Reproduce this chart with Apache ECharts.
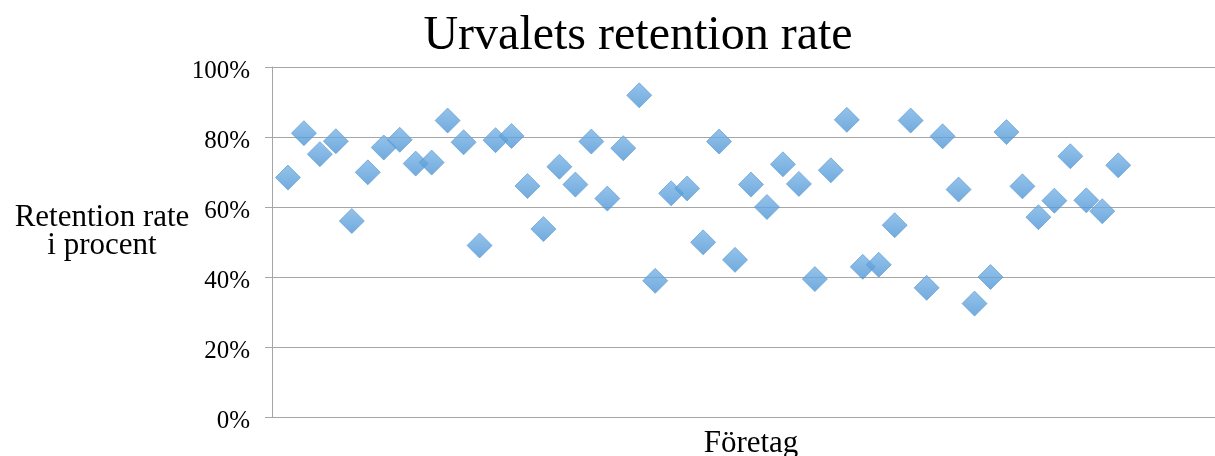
<!DOCTYPE html>
<html>
<head>
<meta charset="utf-8">
<title>Urvalets retention rate</title>
<script src="https://cdn.jsdelivr.net/npm/echarts@6/dist/echarts.min.js"></script>
<style>
  html, body { margin: 0; padding: 0; background: #ffffff; }
  #chart { width: 1215px; height: 456px; }
</style>
</head>
<body>
<div id="chart"></div>
<script>
// Retention rate per company (percent), companies numbered 1..53
const retention = [
  68.4, 81.1, 75.1, 78.8, 56.0, 69.9, 77.0, 79.2, 72.4, 72.7,
  84.7, 78.5, 49.0, 79.1, 80.3, 66.0, 53.7, 71.5, 66.4, 78.7,
  62.4, 76.8, 91.9, 38.9, 63.9, 65.3, 49.9, 78.7, 44.9, 66.4,
  60.0, 72.2, 66.6, 39.4, 70.5, 84.9, 42.9, 43.5, 54.8, 84.7,
  36.9, 80.2, 65.0, 32.4, 40.0, 81.4, 65.9, 57.1, 61.8, 74.5,
  61.9, 58.8, 71.9
];
const yTicks = [0, 20, 40, 60, 80, 100];

const titleText = 'Urvalets retention rate';
const yName = 'Retention rate\ni procent';
const xName = 'Företag';

const points = retention.map((v, i) => [i + 1, v]);
const serif = '"Liberation Serif", "Times New Roman", Times, serif';
const gridGray = '#a6a6a6';

const chart = echarts.init(document.getElementById('chart'), null, { renderer: 'canvas' });
chart.setOption({
  animation: false,
  backgroundColor: '#ffffff',
  title: {
    text: titleText,
    left: 633,
    top: 7,
    textAlign: 'center',
    textStyle: { fontFamily: serif, fontSize: 48, fontWeight: 'normal', color: '#000000' }
  },
  // y-axis title, set horizontally to the left of the tick labels
  graphic: [{
    type: 'text',
    x: 102,
    y: 232,
    style: {
      text: yName,
      fontFamily: serif,
      fontSize: 31,
      fill: '#000000',
      align: 'center',
      verticalAlign: 'middle',
      lineHeight: 28
    }
  }],
  grid: { left: 272, top: 67, right: -15, bottom: 39, outerBoundsMode: 'none', containLabel: false },
  xAxis: {
    type: 'value',
    min: 0,
    max: 60,
    name: xName,
    nameLocation: 'middle',
    nameGap: 11,
    nameTextStyle: { fontFamily: serif, fontSize: 31, color: '#000000', verticalAlign: 'top' },
    axisLine: { show: true, onZero: false, lineStyle: { color: gridGray, width: 1 } },
    axisTick: { show: false },
    axisLabel: { show: false },
    splitLine: { show: false }
  },
  yAxis: {
    type: 'value',
    min: yTicks[0],
    max: yTicks[yTicks.length - 1],
    interval: 20,
    axisLine: { show: true, lineStyle: { color: gridGray, width: 1 } },
    axisTick: { show: true, inside: false, length: 7, lineStyle: { color: gridGray, width: 1 } },
    axisLabel: {
      margin: 22,
      verticalAlign: 'top',
      lineHeight: 8,
      fontFamily: serif, fontSize: 25, color: '#000000',
      formatter: '{value}%'
    },
    splitLine: { show: true, lineStyle: { color: gridGray, width: 1 } }
  },
  series: [{
    type: 'scatter',
    data: points,
    symbol: 'diamond',
    symbolSize: 25,
    itemStyle: {
      color: new echarts.graphic.LinearGradient(0, 0, 0, 1, [
        { offset: 0, color: '#7ab4e6' },
        { offset: 1, color: '#4d95d5' }
      ]),
      borderColor: '#5a97cc',
      borderWidth: 0.8
    }
  }]
});
</script>
</body>
</html>
